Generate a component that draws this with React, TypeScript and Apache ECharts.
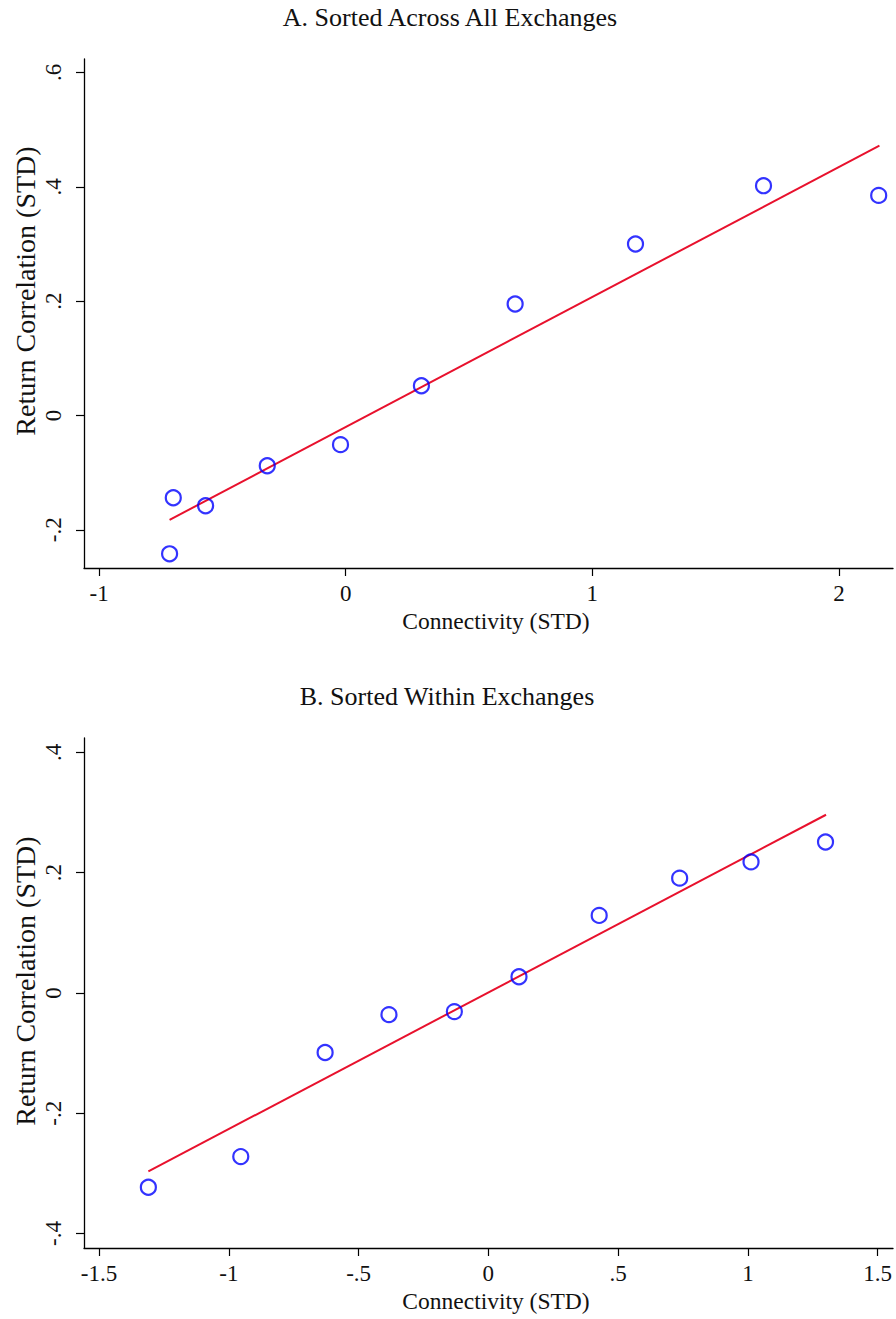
import React, { useEffect, useRef } from "react";
import * as echarts from "echarts";

// Panel A: Sorted Across All Exchanges
const connA = [-0.714, -0.699, -0.568, -0.318, -0.021, 0.307, 0.687, 1.175, 1.694, 2.161];
const corrA = [-0.242, -0.144, -0.158, -0.088, -0.051, 0.052, 0.195, 0.300, 0.402, 0.385];
const fitXA = [-0.714, 2.164];
const fitYA = [-0.1826, 0.472];
const xTicksA = [-1, 0, 1, 2];
const yTicksA = [-0.2, 0, 0.2, 0.4, 0.6];

// Panel B: Sorted Within Exchanges
const connB = [-1.310, -0.954, -0.629, -0.383, -0.131, 0.118, 0.427, 0.737, 1.012, 1.299];
const corrB = [-0.323, -0.272, -0.099, -0.036, -0.031, 0.027, 0.129, 0.191, 0.218, 0.251];
const fitXB = [-1.310, 1.301];
const fitYB = [-0.2966, 0.2964];
const xTicksB = [-1.5, -1, -0.5, 0, 0.5, 1, 1.5];
const yTicksB = [-0.4, -0.2, 0, 0.2, 0.4];

const titleA = "A. Sorted Across All Exchanges";
const titleB = "B. Sorted Within Exchanges";
const xName = "Connectivity (STD)";
const yName = "Return Correlation (STD)";

const FONT = "'Liberation Serif', 'Times New Roman', serif";
const BLUE = "#0000ff";
const RED = "#e8112d";

function fmt(v: number): string {
  const r = Math.round(v * 10) / 10;
  let s = String(r);
  s = s.replace(/^0\./, ".").replace(/^-0\./, "-.");
  return s;
}

function xAxisCfg(grid: number, min: number, max: number, ticks: number[]) {
  return {
    gridIndex: grid,
    type: "value",
    min,
    max,
    splitLine: { show: false },
    axisLine: { onZero: false, lineStyle: { color: "#000", width: 1.3 } },
    axisTick: { length: 8, customValues: ticks, lineStyle: { color: "#000", width: 1.2 } },
    axisLabel: {
      customValues: ticks,
      margin: 14,
      fontSize: 23,
      fontFamily: FONT,
      color: "#111",
      formatter: (v: number) => fmt(v),
    },
  };
}

function yAxisCfg(grid: number, min: number, max: number, ticks: number[]) {
  return {
    gridIndex: grid,
    type: "value",
    min,
    max,
    splitLine: { show: false },
    axisLine: { onZero: false, lineStyle: { color: "#000", width: 1.3 } },
    axisTick: { length: 8, customValues: ticks, lineStyle: { color: "#000", width: 1.2 } },
    axisLabel: {
      customValues: ticks,
      rotate: 90,
      margin: 19,
      fontSize: 23,
      fontFamily: FONT,
      color: "#111",
      formatter: (v: number) => fmt(v),
    },
  };
}

export default function App() {
  const ref = useRef<HTMLDivElement>(null);
  useEffect(() => {
    document.body.style.margin = "0";
    const chart = echarts.init(ref.current as HTMLDivElement, null, {
      renderer: "svg",
      width: 896,
      height: 1319,
    });
    const option = {
      animation: false,
      backgroundColor: "#fff",
      grid: [
        { left: 84, top: 59, width: 809, height: 509 },
        { left: 84, top: 738, width: 809, height: 510 },
      ],
      xAxis: [
        xAxisCfg(0, -1.061, 2.219, xTicksA),
        xAxisCfg(1, -1.558, 1.559, xTicksB),
      ],
      yAxis: [
        yAxisCfg(0, -0.2668, 0.6236, yTicksA),
        yAxisCfg(1, -0.424, 0.424, yTicksB),
      ],
      series: [
        {
          type: "line",
          xAxisIndex: 0,
          yAxisIndex: 0,
          data: fitXA.map((x, i) => [x, fitYA[i]]),
          symbol: "none",
          lineStyle: { color: RED, width: 2 },
          z: 2,
        },
        {
          type: "scatter",
          xAxisIndex: 0,
          yAxisIndex: 0,
          data: connA.map((x, i) => [x, corrA[i]]),
          symbol: "circle",
          symbolSize: 15,
          itemStyle: { color: "rgba(0,0,0,0)", borderColor: BLUE, borderWidth: 2.2 },
          z: 3,
        },
        {
          type: "line",
          xAxisIndex: 1,
          yAxisIndex: 1,
          data: fitXB.map((x, i) => [x, fitYB[i]]),
          symbol: "none",
          lineStyle: { color: RED, width: 2 },
          z: 2,
        },
        {
          type: "scatter",
          xAxisIndex: 1,
          yAxisIndex: 1,
          data: connB.map((x, i) => [x, corrB[i]]),
          symbol: "circle",
          symbolSize: 15,
          itemStyle: { color: "rgba(0,0,0,0)", borderColor: BLUE, borderWidth: 2.2 },
          z: 3,
        },
      ],
      graphic: [
        {
          type: "text",
          x: 450,
          y: 17,
          style: { text: titleA, fontSize: 26, fontFamily: FONT, fill: "#111", align: "center", verticalAlign: "middle" },
        },
        {
          type: "text",
          x: 447,
          y: 696,
          style: { text: titleB, fontSize: 26, fontFamily: FONT, fill: "#111", align: "center", verticalAlign: "middle" },
        },
        {
          type: "text",
          x: 496,
          y: 621,
          style: { text: xName, fontSize: 23.5, fontFamily: FONT, fill: "#111", align: "center", verticalAlign: "middle" },
        },
        {
          type: "text",
          x: 496,
          y: 1301,
          style: { text: xName, fontSize: 23.5, fontFamily: FONT, fill: "#111", align: "center", verticalAlign: "middle" },
        },
        {
          type: "text",
          x: 25,
          y: 291,
          rotation: Math.PI / 2,
          style: { text: yName, fontSize: 28, fontFamily: FONT, fill: "#111", align: "center", verticalAlign: "middle" },
        },
        {
          type: "text",
          x: 25,
          y: 981,
          rotation: Math.PI / 2,
          style: { text: yName, fontSize: 28, fontFamily: FONT, fill: "#111", align: "center", verticalAlign: "middle" },
        },
      ],
    };
    chart.setOption(option as any);
    return () => chart.dispose();
  }, []);
  return <div ref={ref} style={{ width: 896, height: 1319 }} />;
}
